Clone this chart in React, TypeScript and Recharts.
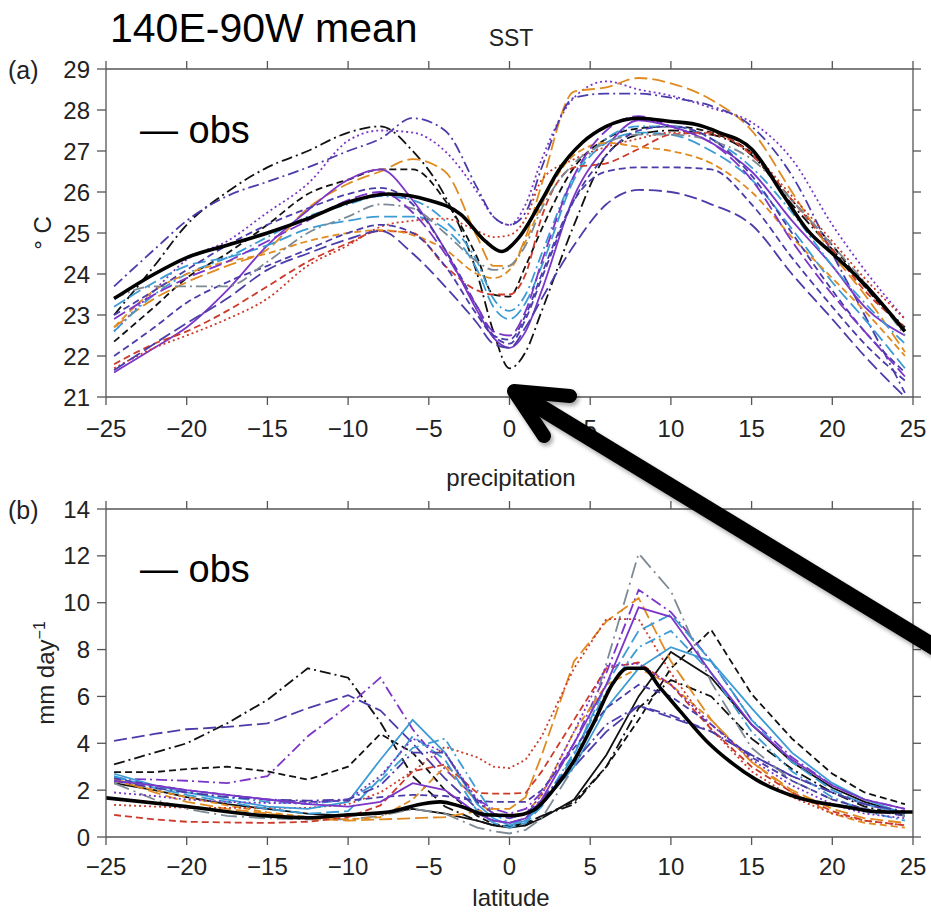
import React from 'react';
import { LineChart, Line, XAxis, YAxis } from 'recharts';

// ---------- categories / ticks ----------
const lats = [-24.5, -22, -20, -17.5, -15, -12.5, -10, -8, -6, -4, -2, -1, 0, 1, 2, 4, 6, 8, 10, 12.5, 15, 17.5, 20, 22, 24.5];
const latTicks = [-25, -20, -15, -10, -5, 0, 5, 10, 15, 20, 25];
const sstTicks = [21, 22, 23, 24, 25, 26, 27, 28, 29];
const prTicks = [0, 2, 4, 6, 8, 10, 12, 14];

// ---------- observations ----------
const obsSstLats = [-24.5, -22, -20, -17.5, -15, -12.5, -10, -7.5, -5, -3, -1.5, -0.5, 0.5, 2, 3, 4.5, 6, 8, 10, 11.5, 13, 15, 17, 18.5, 20, 22, 24.5];
const obsSstValues = [23.4, 24.0, 24.4, 24.7, 25.0, 25.35, 25.75, 25.95, 25.8, 25.45, 24.8, 24.55, 24.85, 25.8, 26.5, 27.2, 27.6, 27.8, 27.72, 27.65, 27.45, 27.05, 25.9, 25.05, 24.5, 23.75, 22.6];
const obsPrLats = [-25, -20, -15, -12.5, -10, -7.5, -5.5, -4.3, -3, -1.5, 0.2, 1.5, 2.7, 3.9, 5.2, 6.4, 7.3, 8.3, 9.3, 10.6, 12.2, 13.7, 15.3, 17.8, 20.9, 23, 25];
const obsPrValues = [1.67, 1.3, 0.9, 0.82, 0.95, 1.07, 1.4, 1.5, 1.3, 0.95, 0.92, 1.15, 2.0, 3.15, 4.85, 6.55, 7.2, 7.2, 6.4, 5.35, 4.1, 3.2, 2.44, 1.7, 1.28, 1.07, 1.07];

// ---------- SST models (values on lats) ----------
const sstM1 = [23.0, 24.2, 25.2, 26.0, 26.6, 27.0, 27.45, 27.6, 27.0, 25.9, 24.0, 22.6, 21.7, 22.1, 23.1, 25.2, 26.9, 27.4, 27.5, 27.4, 26.9, 25.7, 24.6, 23.7, 22.7];
const sstM2 = [22.35, 23.2, 23.9, 24.5, 25.2, 25.95, 26.3, 26.55, 26.55, 25.8, 24.4, 23.5, 23.45, 24.2, 25.1, 26.6, 27.3, 27.55, 27.6, 27.45, 26.95, 25.8, 24.7, 23.7, 22.6];
const sstM3 = [22.6, 23.6, 24.35, 24.8, 25.5, 26.2, 27.25, 27.5, 27.45, 27.0, 26.0, 25.4, 25.2, 25.7, 26.8, 28.3, 28.7, 28.5, 28.35, 28.05, 27.7, 26.8, 25.2, 24.1, 22.9];
const sstM4 = [22.7, 23.4, 23.8, 24.2, 24.6, 25.6, 26.2, 26.5, 26.8, 26.5, 24.9, 24.2, 24.2, 24.9, 26.2, 28.45, 28.55, 28.78, 28.65, 28.25, 27.5, 26.0, 24.5, 23.5, 22.1];
const sstM5 = [23.7, 24.6, 25.3, 25.9, 26.25, 26.6, 27.0, 27.3, 27.8, 27.5, 26.1, 25.4, 25.2, 25.5, 26.6, 28.3, 28.4, 28.4, 28.3, 28.1, 27.6, 26.4, 24.5, 23.0, 21.1];
const sstM6 = [21.6, 22.2, 22.7, 23.6, 24.7, 25.55, 26.3, 26.55, 25.8, 24.6, 23.1, 22.45, 22.2, 22.6, 23.6, 25.9, 27.1, 27.75, 27.6, 27.2, 26.5, 25.3, 24.2, 23.2, 22.5];
const sstM7 = [23.2, 23.8, 24.2, 24.4, 24.7, 25.1, 25.3, 25.4, 25.4, 25.1, 24.1, 23.2, 22.9, 23.3, 24.2, 26.3, 27.2, 27.45, 27.4, 27.0, 26.3, 25.1, 23.8, 22.9, 21.7];
const sstM8 = [22.6, 23.5, 24.0, 24.4, 24.9, 25.4, 25.7, 25.9, 25.8, 25.3, 24.3, 23.4, 23.1, 23.5, 24.5, 26.4, 27.3, 27.6, 27.6, 27.3, 26.6, 25.5, 24.2, 23.3, 22.3];
const sstM9 = [21.8, 22.3, 22.6, 23.1, 23.7, 24.3, 24.75, 25.05, 25.0, 24.2, 23.6, 23.5, 23.5, 24.0, 25.4, 26.6, 26.7, 27.05, 27.4, 27.45, 26.9, 25.8, 24.6, 23.6, 22.7];
const sstM10 = [21.7, 22.2, 22.5, 22.9, 23.4, 24.2, 24.7, 25.15, 25.3, 25.35, 25.05, 24.9, 24.95, 25.35, 26.3, 26.8, 27.1, 27.3, 27.45, 27.4, 26.95, 25.9, 24.8, 23.9, 22.9];
const sstM11 = [22.7, 23.6, 24.0, 24.3, 24.5, 24.8, 25.0, 25.07, 24.95, 24.6, 24.0, 23.9, 24.1, 24.8, 25.7, 26.9, 27.2, 27.1, 27.0, 26.7, 26.0, 24.9, 23.9, 23.1, 22.0];
const sstM12 = [21.65, 22.3, 22.8, 23.4, 24.1, 24.5, 24.85, 25.05, 24.5, 23.7, 22.8, 22.3, 22.2, 22.7, 23.4, 24.7, 25.7, 26.05, 26.0, 25.7, 25.2, 24.0, 22.9, 22.0, 21.0];
const sstM13 = [22.0, 22.7, 23.3, 23.8, 24.2, 24.6, 25.0, 25.2, 25.0, 24.2, 23.0, 22.5, 22.4, 23.0, 24.0, 25.8, 26.5, 26.6, 26.6, 26.55, 25.7, 24.4, 23.2, 22.3, 21.4];
const sstM14 = [23.4, 23.7, 23.7, 23.7, 24.3, 25.0, 25.4, 25.7, 25.6, 25.0, 24.3, 24.1, 24.2, 24.7, 25.6, 26.7, 27.2, 27.4, 27.4, 27.25, 26.8, 25.8, 24.7, 23.8, 22.5];
const sstM15 = [23.0, 23.6, 24.1, 24.7, 25.2, 25.6, 25.95, 26.1, 25.7, 24.6, 23.2, 22.5, 22.3, 22.9, 23.9, 25.8, 26.9, 27.5, 27.6, 27.3, 26.4, 25.0, 23.6, 22.6, 21.6];
const sstM16 = [22.9, 23.5, 23.9, 24.3, 24.8, 25.3, 25.8, 26.0, 25.5, 24.5, 23.2, 22.6, 22.5, 23.1, 24.3, 26.4, 27.5, 27.85, 27.6, 27.2, 26.3, 24.8, 23.5, 22.6, 21.5];

// ---------- precipitation models (values on lats) ----------
const prM1 = [3.1, 3.6, 4.0, 4.85, 5.85, 7.2, 6.8, 4.9, 2.6, 1.3, 0.7, 0.5, 0.45, 0.5, 0.9, 1.4, 3.0, 5.5, 6.7, 6.0, 4.2, 2.9, 1.9, 1.3, 0.9];
const prM2 = [2.77, 2.77, 2.9, 3.0, 2.8, 2.45, 3.0, 4.4, 3.6, 2.0, 0.9, 0.55, 0.45, 0.6, 0.9, 1.5, 3.0, 5.0, 7.2, 8.84, 6.1, 4.2, 2.7, 1.9, 1.4];
const prM3 = [2.3, 2.0, 1.7, 1.4, 1.2, 1.0, 0.9, 1.0, 1.2, 1.0, 0.7, 0.5, 0.4, 0.5, 0.8, 1.6, 3.5, 6.0, 7.9, 6.8, 4.8, 3.2, 2.1, 1.5, 1.0];
const prM4 = [4.1, 4.4, 4.6, 4.7, 4.85, 5.5, 6.05, 5.4, 4.0, 2.5, 1.2, 0.7, 0.6, 0.8, 1.4, 3.0, 4.5, 5.6, 5.1, 4.5, 3.5, 2.6, 1.9, 1.4, 1.0];
const prM5 = [2.5, 2.45, 2.4, 2.3, 2.6, 4.3, 5.6, 6.8, 4.6, 2.9, 1.6, 1.2, 1.0, 1.2, 1.9, 4.0, 7.0, 10.55, 9.6, 7.5, 5.0, 3.4, 2.2, 1.6, 1.2];
const prM6 = [2.3, 1.6, 1.2, 0.9, 0.8, 0.75, 0.75, 0.9, 1.2, 1.0, 0.4, 0.25, 0.15, 0.3, 0.8, 3.0, 7.4, 12.1, 10.5, 6.6, 3.8, 2.4, 1.6, 1.2, 0.9];
const prM7 = [2.5, 1.9, 1.5, 1.2, 1.0, 0.8, 0.7, 0.75, 0.8, 0.85, 1.1, 1.2, 1.2, 1.7, 3.5, 7.5, 9.2, 10.2, 7.5, 5.0, 3.2, 2.0, 1.2, 0.8, 0.6];
const prM8 = [2.4, 2.0, 1.7, 1.35, 1.05, 0.85, 0.75, 0.85, 1.6, 3.0, 1.5, 1.0, 0.9, 1.0, 1.8, 4.5, 6.5, 7.2, 6.5, 5.0, 3.2, 1.9, 1.0, 0.6, 0.4];
const prM9 = [1.37, 1.3, 1.25, 1.24, 1.24, 1.24, 1.4, 1.9, 2.8, 3.85, 3.4, 3.0, 2.94, 3.3, 4.3, 7.2, 9.3, 9.3, 7.0, 4.6, 2.8, 1.7, 1.0, 0.7, 0.5];
const prM10 = [0.94, 0.75, 0.65, 0.62, 0.6, 0.65, 0.85, 1.35, 2.8, 3.1, 1.88, 1.85, 1.85, 1.88, 2.8, 5.0, 7.2, 7.45, 6.5, 4.6, 3.0, 1.9, 1.1, 0.7, 0.5];
const prM11 = [2.6, 2.1, 1.8, 1.5, 1.2, 1.0, 1.1, 2.5, 4.3, 3.3, 1.1, 0.6, 0.4, 0.6, 1.3, 3.5, 6.5, 8.8, 9.5, 7.5, 5.0, 3.2, 2.0, 1.4, 1.0];
const prM12 = [2.7, 2.2, 1.9, 1.6, 1.3, 1.2, 1.5, 3.3, 5.0, 3.6, 1.4, 0.8, 0.5, 0.7, 1.4, 3.0, 5.5, 7.2, 8.1, 7.5, 5.5, 3.6, 2.3, 1.6, 1.0];
const prM13 = [2.55, 2.2, 1.9, 1.7, 1.5, 1.4, 1.6, 2.4, 3.8, 4.2, 2.0, 1.0, 0.6, 0.7, 1.4, 3.6, 6.2, 8.1, 8.8, 7.0, 4.5, 2.8, 1.7, 1.1, 0.7];
const prM14 = [2.5, 2.2, 2.0, 1.8, 1.6, 1.5, 1.55, 1.7, 1.8, 1.75, 1.55, 1.5, 1.5, 1.5, 2.0, 3.8, 5.5, 6.5, 6.0, 4.8, 3.4, 2.4, 1.6, 1.2, 0.9];
const prM15 = [2.4, 2.1, 1.9, 1.7, 1.6, 1.55, 1.6, 2.2, 3.6, 3.6, 1.5, 1.0, 0.8, 1.0, 1.6, 3.2, 4.8, 5.6, 5.2, 4.5, 3.5, 2.6, 1.9, 1.4, 1.1];
const prM16 = [2.4, 2.2, 2.0, 1.8, 1.6, 1.4, 1.3, 1.5, 2.3, 2.0, 1.0, 0.7, 0.6, 0.8, 1.6, 4.0, 6.5, 9.8, 9.4, 7.0, 4.8, 3.3, 2.2, 1.6, 1.2];
const prM17 = [1.9, 1.75, 1.6, 1.5, 1.45, 1.45, 1.6, 2.6, 4.2, 3.6, 1.6, 1.0, 0.8, 1.0, 1.8, 4.5, 7.3, 7.4, 6.5, 4.8, 3.3, 2.2, 1.4, 1.0, 0.8];

// ---------- styles ----------
const C = {
  black: '#111111',
  purple: '#7B35C8',
  darkblue: '#4A3DAA',
  lightblue: '#3C9BD5',
  orange: '#E08A1F',
  red: '#CC3A2A',
  gray: '#7E8A93',
};
const D = {
  solid: undefined as string | undefined,
  dashed: '7 4',
  longDash: '13 5',
  dashDot: '11 4 2 4',
  longDashDot: '16 5 2 5',
  dotted: '2 3',
};

const sstModels = [
  { key: 'm1', values: sstM1, color: C.black, dash: D.dashDot },
  { key: 'm2', values: sstM2, color: C.black, dash: D.dashed },
  { key: 'm3', values: sstM3, color: C.purple, dash: D.dotted },
  { key: 'm4', values: sstM4, color: C.orange, dash: D.longDash },
  { key: 'm5', values: sstM5, color: C.darkblue, dash: D.dashDot },
  { key: 'm6', values: sstM6, color: C.purple, dash: D.solid },
  { key: 'm7', values: sstM7, color: C.lightblue, dash: D.longDash },
  { key: 'm8', values: sstM8, color: C.lightblue, dash: D.dashDot },
  { key: 'm9', values: sstM9, color: C.red, dash: D.dashed },
  { key: 'm10', values: sstM10, color: C.red, dash: D.dotted },
  { key: 'm11', values: sstM11, color: C.orange, dash: D.dashed },
  { key: 'm12', values: sstM12, color: C.darkblue, dash: D.longDash },
  { key: 'm13', values: sstM13, color: C.darkblue, dash: D.dashed },
  { key: 'm14', values: sstM14, color: C.gray, dash: D.dashDot },
  { key: 'm15', values: sstM15, color: C.darkblue, dash: D.dashed },
  { key: 'm16', values: sstM16, color: C.purple, dash: D.longDash },
];

const prModels = [
  { key: 'm1', values: prM1, color: C.black, dash: D.dashDot },
  { key: 'm2', values: prM2, color: C.black, dash: D.dashed },
  { key: 'm3', values: prM3, color: C.black, dash: D.solid },
  { key: 'm4', values: prM4, color: C.darkblue, dash: D.longDash },
  { key: 'm5', values: prM5, color: C.purple, dash: D.dashDot },
  { key: 'm6', values: prM6, color: C.gray, dash: D.longDashDot },
  { key: 'm7', values: prM7, color: C.orange, dash: D.longDash },
  { key: 'm8', values: prM8, color: C.orange, dash: D.dashed },
  { key: 'm9', values: prM9, color: C.red, dash: D.dotted },
  { key: 'm10', values: prM10, color: C.red, dash: D.dashed },
  { key: 'm11', values: prM11, color: C.lightblue, dash: D.longDash },
  { key: 'm12', values: prM12, color: C.lightblue, dash: D.solid },
  { key: 'm13', values: prM13, color: C.lightblue, dash: D.dashDot },
  { key: 'm14', values: prM14, color: C.darkblue, dash: D.dashed },
  { key: 'm15', values: prM15, color: C.darkblue, dash: D.dashDot },
  { key: 'm16', values: prM16, color: C.purple, dash: D.solid },
  { key: 'm17', values: prM17, color: C.purple, dash: D.dotted },
];

const buildTable = (models: { key: string; values: number[] }[]) =>
  lats.map((lat, i) => {
    const row: Record<string, number> = { lat };
    models.forEach((m) => {
      row[m.key] = m.values[i];
    });
    return row;
  });

const sstTable = buildTable(sstModels);
const prTable = buildTable(prModels);
const obsSstData = obsSstLats.map((lat, i) => ({ lat, obs: obsSstValues[i] }));
const obsPrData = obsPrLats.map((lat, i) => ({ lat, obs: obsPrValues[i] }));

const FONT = "'Liberation Sans', Arial, Helvetica, sans-serif";
const AX = '#555555';
const tickStyle = { fontSize: 24, fill: '#222', fontFamily: FONT };
const fmt = (v: number) => (v < 0 ? '\u2212' + Math.abs(v) : String(v));
const EmptyTick = () => <g />;

type Model = { key: string; values: number[]; color: string; dash: string | undefined };

function Panel(props: {
  table: Record<string, number>[];
  models: Model[];
  obs: { lat: number; obs: number }[];
  yDomain: [number, number];
  yTicks: number[];
  height: number;
  top: number;
  xHeight: number;
  xTickMargin: number;
  curve: 'monotone' | 'linear';
}) {
  const { table, models, obs, yDomain, yTicks, height, top, xHeight, xTickMargin, curve } = props;
  return (
    <LineChart
      width={931}
      height={height}
      data={table}
      margin={{ top: top, right: 17, bottom: 0, left: 0 }}
    >
      <XAxis
        dataKey="lat"
        type="number"
        domain={[-25, 25]}
        ticks={latTicks}
        interval={0}
        allowDataOverflow
        height={xHeight}
        tickSize={8}
        tickMargin={xTickMargin}
        tickFormatter={fmt}
        tick={tickStyle}
        axisLine={{ stroke: AX, strokeWidth: 1.3 }}
        tickLine={{ stroke: AX, strokeWidth: 1.3 }}
      />
      <XAxis
        xAxisId="t"
        orientation="top"
        dataKey="lat"
        type="number"
        domain={[-25, 25]}
        ticks={latTicks}
        interval={0}
        allowDataOverflow
        height={1}
        tickSize={8}
        tick={EmptyTick}
        axisLine={{ stroke: AX, strokeWidth: 1.3 }}
        tickLine={{ stroke: AX, strokeWidth: 1.3 }}
      />
      <YAxis
        type="number"
        domain={yDomain}
        ticks={yTicks}
        interval={0}
        allowDataOverflow
        width={106}
        tickSize={9}
        tickMargin={7}
        tick={tickStyle}
        axisLine={{ stroke: AX, strokeWidth: 1.3 }}
        tickLine={{ stroke: AX, strokeWidth: 1.3 }}
      />
      <YAxis
        yAxisId="r"
        orientation="right"
        type="number"
        domain={yDomain}
        ticks={yTicks}
        interval={0}
        allowDataOverflow
        width={1}
        tickSize={8}
        tick={EmptyTick}
        axisLine={{ stroke: AX, strokeWidth: 1.3 }}
        tickLine={{ stroke: AX, strokeWidth: 1.3 }}
      />
      {models.map((m) => (
        <Line
          key={m.key}
          dataKey={m.key}
          type={curve}
          stroke={m.color}
          strokeWidth={1.8}
          strokeDasharray={m.dash}
          dot={false}
          activeDot={false}
          isAnimationActive={false}
        />
      ))}
      <Line
        data={obs}
        dataKey="obs"
        type="monotone"
        stroke="#000"
        strokeWidth={3.6}
        dot={false}
        activeDot={false}
        isAnimationActive={false}
      />
    </LineChart>
  );
}

export default function App() {
  return (
    <div
      style={{
        position: 'absolute',
        left: 0,
        top: 0,
        width: 931,
        height: 912,
        background: '#fff',
        overflow: 'hidden',
        fontFamily: FONT,
      }}
    >
      <div style={{ position: 'absolute', left: 0, top: 0 }}>
        <Panel
          table={sstTable}
          models={sstModels}
          obs={obsSstData}
          yDomain={[21, 29]}
          yTicks={sstTicks}
          height={460}
          top={68}
          xHeight={63}
          xTickMargin={15}
          curve="monotone"
        />
      </div>
      <div style={{ position: 'absolute', left: 0, top: 450 }}>
        <Panel
          table={prTable}
          models={prModels}
          obs={obsPrData}
          yDomain={[0, 14]}
          yTicks={prTicks}
          height={462}
          top={58}
          xHeight={75}
          xTickMargin={13}
          curve="linear"
        />
      </div>
      <svg
        width={931}
        height={912}
        style={{ position: 'absolute', left: 0, top: 0, pointerEvents: 'none' }}
        fontFamily={FONT}
      >
        <text x={110} y={42} fontSize={41} fill="#000">140E-90W mean</text>
        <text x={511} y={46} fontSize={23} fill="#222" textAnchor="middle">SST</text>
        <text x={8} y={79} fontSize={25} fill="#222">(a)</text>
        <text x={140} y={143} fontSize={38} fill="#000">— obs</text>
        <text x={51} y={233} fontSize={24} fill="#222" textAnchor="middle" transform="rotate(-90 51 233)">° C</text>

        <text x={511} y={486} fontSize={24} fill="#222" textAnchor="middle">precipitation</text>
        <text x={8} y={519} fontSize={25} fill="#222">(b)</text>
        <text x={140} y={582} fontSize={38} fill="#000">— obs</text>
        <text x={54} y={673} fontSize={24} fill="#222" textAnchor="middle" transform="rotate(-90 54 673)">
          mm day<tspan fontSize={16} dy={-9}>−1</tspan>
        </text>
        <text x={511} y={906} fontSize={24} fill="#222" textAnchor="middle">latitude</text>

        <g style={{ filter: 'drop-shadow(2px 3px 2px rgba(0,0,0,0.35))' }}>
          <line x1={520} y1={395} x2={990} y2={681} stroke="#000" strokeWidth={17} />
          <polyline
            points="570,396 514,391 544,436"
            fill="none"
            stroke="#000"
            strokeWidth={14}
            strokeLinejoin="round"
            strokeLinecap="round"
          />
        </g>
      </svg>
    </div>
  );
}
